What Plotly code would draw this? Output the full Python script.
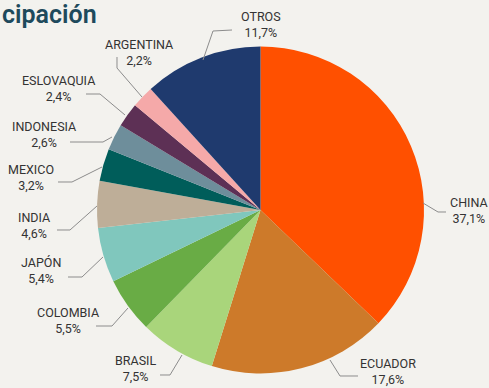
import plotly.graph_objects as go

# Share of exports by destination (%)
countries = ["CHINA", "ECUADOR", "BRASIL", "COLOMBIA", "JAPÓN", "INDIA",
             "MEXICO", "INDONESIA", "ESLOVAQUIA", "ARGENTINA", "OTROS"]
shares = [37.1, 17.6, 7.5, 5.5, 5.4, 4.6, 3.2, 2.6, 2.4, 2.2, 11.7]
share_labels = ["37,1%", "17,6%", "7,5%", "5,5%", "5,4%", "4,6%",
                "3,2%", "2,6%", "2,4%", "2,2%", "11,7%"]

colors = ["#FF5000", "#CD7A2A", "#A9D57B", "#69AC45", "#80C7BD", "#BEAE98",
          "#005D5A", "#6E8E9B", "#5D3055", "#F5A9A9", "#1F3A6E"]

W, H = 489, 388
BG = "#F3F2EE"
TEXT = "#333333"
LEADER = "#8C8C8C"

# Pie geometry in pixels
CX, CY, R = 260.5, 210.0, 163.5


def px(x):
    return x / W


def py(y):
    return 1 - y / H


# Label placement (pixel centre of the two-line label) and leader polyline
label_layout = {
    "CHINA":      ((469, 210), [(423, 203), (438, 212), (446, 212)]),
    "ECUADOR":    ((388, 371), [(330, 360), (340, 376), (358, 376)]),
    "BRASIL":     ((135, 368), [(182, 355), (170, 375), (160, 375)]),
    "COLOMBIA":   ((68, 320), [(128, 308), (112, 326), (96, 326)]),
    "JAPÓN":      ((41, 270), [(103, 257), (82, 277), (68, 277)]),
    "INDIA":      ((34, 225), [(97, 206), (70, 230), (57, 230)]),
    "MEXICO":     ((31, 178), [(102, 167), (72, 182), (58, 182)]),
    "INDONESIA":  ((44, 134), [(112, 137), (103, 142), (70, 142)]),
    "ESLOVAQUIA": ((58, 89), [(125, 115), (100, 94), (86, 94)]),
    "ARGENTINA":  ((139, 53), [(142, 97), (117, 68), (117, 57)]),
    "OTROS":      ((261, 24), [(203, 60), (213, 31), (232, 30)]),
}

fig = go.Figure(
    go.Pie(
        labels=countries,
        values=shares,
        marker=dict(colors=colors, line=dict(width=0)),
        sort=False,
        direction="clockwise",
        rotation=0,
        textinfo="none",
        hoverinfo="label+percent",
        showlegend=False,
        domain=dict(x=[px(CX - R), px(CX + R)], y=[py(CY + R), py(CY - R)]),
    )
)

annotations = []
shapes = []
for name, pct in zip(countries, share_labels):
    (tx, ty), pts = label_layout[name]
    annotations.append(dict(
        x=px(tx), y=py(ty), xref="paper", yref="paper",
        text=f"{name}<br>{pct}", showarrow=False, align="center",
        xanchor="center", yanchor="middle",
        font=dict(family="Roboto", size=12.5, color=TEXT),
    ))
    path = "M " + " L ".join(f"{px(x):.5f},{py(y):.5f}" for x, y in pts)
    shapes.append(dict(type="path", path=path, xref="paper", yref="paper",
                       line=dict(color=LEADER, width=1)))

# Heading fragment at the top-left corner
annotations.append(dict(
    x=px(0), y=py(15), xref="paper", yref="paper",
    text="cipación", showarrow=False,
    xanchor="left", yanchor="middle",
    font=dict(family="Roboto", size=25, color="#1E4A5C", weight=600),
))

fig.update_layout(
    width=W, height=H,
    margin=dict(l=0, r=0, t=0, b=0),
    paper_bgcolor=BG, plot_bgcolor=BG,
    annotations=annotations, shapes=shapes,
)

fig.write_html("out.html")
